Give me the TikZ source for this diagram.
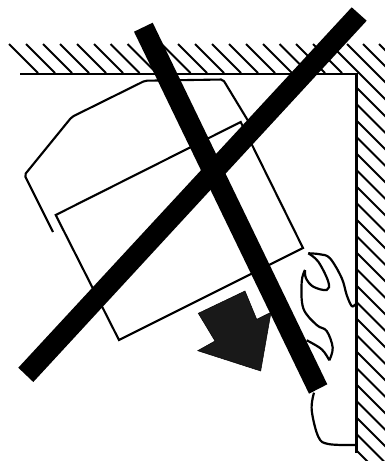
\documentclass[tikz,border=0pt]{standalone}
\tikzset{
  hatch/.style={line width=2.1pt,black},
  wall/.style={line width=2.6pt,black},
  outline/.style={line width=2.1pt,black,line join=miter},
  flame/.style={line width=2.2pt,black},
  cross/.style={fill=black,draw=none},
  pointer/.style={fill=black!90,draw=black,line width=0.5pt,line join=miter}
}
\begin{document}
\begin{tikzpicture}[x=1pt,y=-1pt]
\useasboundingbox (0,0) rectangle (385,461);
\begin{scope}
\clip (0,0) rectangle (385,461);
% top hatch
\foreach \s in {9,26,43,60,77,94,110.5,127.5,144.5,161.5,178,195,212,229,246,263,279.5,296,313}
  \draw[hatch] (\s,44) -- (\s+29,73);
\foreach \s in {330,347,363,379}
  \draw[hatch] (\s,44) -- (\s+60,104);
% right hatch
\foreach \k in {0,...,22}
  \draw[hatch] (356,{87+16.5*\k}) -- (396,{127+16.5*\k});
\end{scope}
% walls
\draw[wall] (20,74) -- (356.5,74) -- (356.5,453);
% flames
\draw[flame] plot[smooth,tension=.6] coordinates {(355.3,304.3) (351.7,306) (346.7,295) (341.7,278) (330,258.3) (320,254.3) (308.3,253.3)};
\draw[flame] plot[smooth,tension=.6] coordinates {(308.3,253.3) (318.3,261.7) (328.3,281.7) (326.7,290) (313.3,286.7) (306,278.3) (305,270)};
\draw[flame] plot[smooth,tension=.6] coordinates {(305,270) (301.7,281.7) (303.3,308.3) (316.7,325) (326.7,331) (332.7,347.7) (329.3,360.3)};
\draw[flame] plot[smooth,tension=.6] coordinates {(329.3,360.3) (321.7,349.3) (306.7,340.3)};
\draw[flame] plot[smooth,tension=.6] coordinates {(314,392.7) (311.7,410) (318.3,436.7) (328.3,444) (355,445)};
% device
\draw[outline,rounded corners=2pt] (53,232) -- (24.5,175) -- (71.7,117) -- (145,80.7) -- (223,79.5) -- (250,124);
\draw[outline] (240.7,122) -- (303,248) -- (119,340) -- (55.7,215) -- cycle;
% arrow
\fill[white] (245,291) -- (256.7,319.3) -- (271,312.3) -- (255,285) -- cycle;
\draw[pointer] (198.3,313.3) -- (245,291) -- (256.7,319.3) -- (271,312.3) -- (260.7,371) -- (197.7,350.7) -- (215,341) -- cycle;
% cross
\fill[cross] (134,31.7) -- (152.7,22.7) -- (327.3,384.3) -- (309,393.7) -- cycle;
\fill[cross] (351.7,7.3) -- (366.7,20.7) -- (33.3,382) -- (18.3,367.7) -- cycle;
\end{tikzpicture}
\end{document}
